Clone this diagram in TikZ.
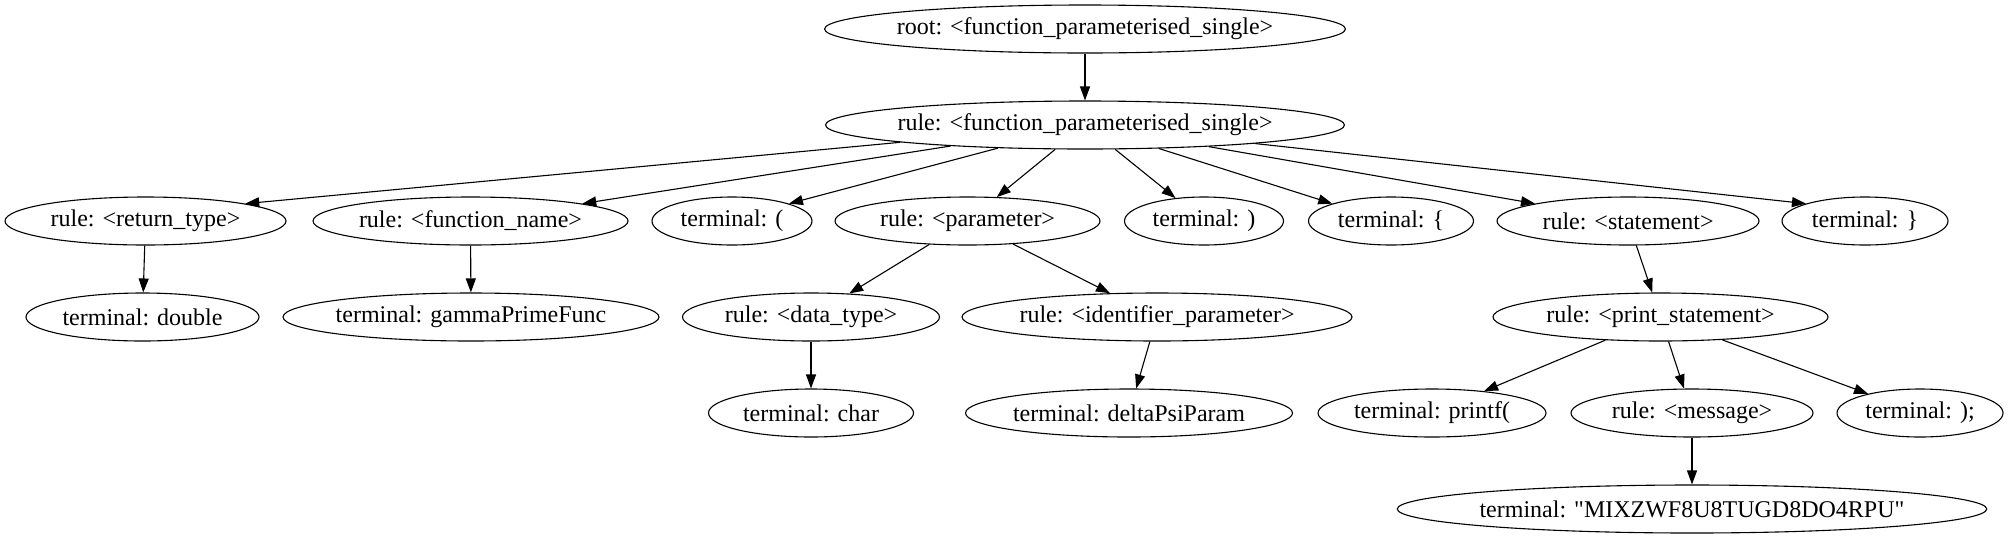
\documentclass[tikz,border=0pt]{standalone}
\usepackage{fontspec}
\setmainfont{Liberation Serif}
\usetikzlibrary{shapes.geometric,arrows.meta}

\tikzset{
  tree/.style={draw, ellipse, line width=1.1pt, minimum height=48pt,
    inner xsep=-4pt, inner ysep=2pt, font=\fontsize{24}{28}\selectfont},
  edge/.style={line width=1.1pt, -{Triangle[length=14pt,width=10pt]}}
}

\begin{document}
\begin{tikzpicture}[x=1pt,y=-1pt]
				\useasboundingbox (0,0) rectangle (2009,539);
				\node[tree, minimum width=518pt] (root) at (1085,29) {root: <function\_parameterised\_single>};
				\node[tree, minimum width=516pt] (fps) at (1085,125) {rule: <function\_parameterised\_single>};
				% children of the function rule
				\node[tree, minimum width=281pt] (rtype) at (145.5,221) {rule: <return\_type>};
				\node[tree, minimum width=315pt] (fname) at (470.5,221) {rule: <function\_name>};
				\node[tree, minimum width=160pt] (lpar) at (732,221) {terminal: (};
				\node[tree, minimum width=265pt] (param) at (967.5,221) {rule: <parameter>};
				\node[tree, minimum width=159pt] (rpar) at (1204,221) {terminal: )};
				\node[tree, minimum width=165pt] (lbr) at (1391,221) {terminal: \{};
				\node[tree, minimum width=262pt] (stmt) at (1628,221) {rule: <statement>};
				\node[tree, minimum width=166pt] (rbr) at (1865,221) {terminal: \}};
				% third row
				\node[tree, minimum width=233pt] (dbl) at (142.5,317) {terminal: double};
				\node[tree, minimum width=376pt] (gpf) at (471,317) {terminal: gammaPrimeFunc};
				\node[tree, minimum width=257pt] (dtype) at (811,317) {rule: <data\_type>};
				\node[tree, minimum width=390pt] (ident) at (1157,317) {rule: <identifier\_parameter>};
				\node[tree, minimum width=335pt] (pstmt) at (1660.5,317) {rule: <print\_statement>};
				% fourth row
				\node[tree, minimum width=205pt] (chr) at (811,413) {terminal: char};
				\node[tree, minimum width=327pt] (dpp) at (1129,413) {terminal: deltaPsiParam};
				\node[tree, minimum width=228pt] (prf) at (1432,413) {terminal: printf(};
				\node[tree, minimum width=242pt] (msg) at (1692,413) {rule: <message>};
				\node[tree, minimum width=166pt] (semi) at (1920,413) {terminal: );};
				\node[tree, minimum width=536pt] (str) at (1692,509) {terminal: \textquotedbl MIXZWF8U8TUGD8DO4RPU\textquotedbl};
				\draw[edge] (root) -- (fps);
				\draw[edge] (fps) -- (rtype.north east);
				\draw[edge] (fps) -- (fname.north east);
				\draw[edge] (fps) -- (lpar.north east);
				\draw[edge] (fps) -- (param);
				\draw[edge] (fps) -- (rpar);
				\draw[edge] (fps) -- (lbr.north west);
				\draw[edge] (fps) -- (stmt.north west);
				\draw[edge] (fps) -- (rbr.north west);
				\draw[edge] (rtype) -- (dbl);
				\draw[edge] (fname) -- (gpf);
				\draw[edge] (param) -- (dtype);
				\draw[edge] (param) -- (ident);
				\draw[edge] (stmt) -- (pstmt);
				\draw[edge] (dtype) -- (chr);
				\draw[edge] (ident) -- (dpp);
				\draw[edge] (pstmt) -- (prf);
				\draw[edge] (pstmt) -- (msg);
				\draw[edge] (pstmt) -- (semi);
				\draw[edge] (msg) -- (str);
			\end{tikzpicture}
\end{document}
